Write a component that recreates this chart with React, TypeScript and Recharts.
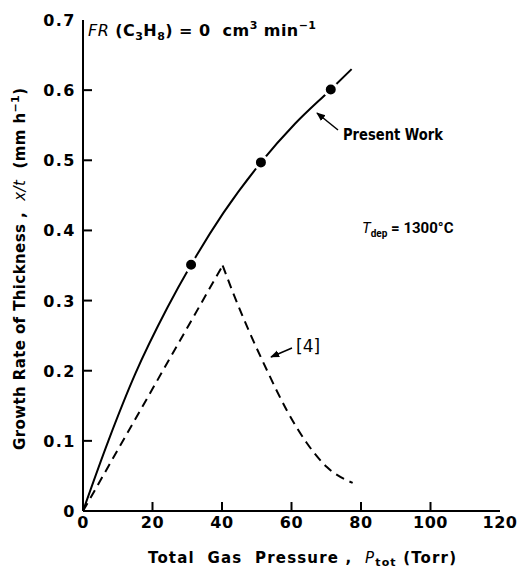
import { ComposedChart, Line, Scatter, XAxis, YAxis } from 'recharts'

// Present work (solid curve)
const presentX = [0, 7.3, 15, 24.3, 31.1, 40.4, 51.2, 61, 71.3, 77.3]
const presentY = [0, 0.1, 0.195, 0.29, 0.351, 0.425, 0.497, 0.552, 0.601, 0.63]
// measured points on the curve
const pointX = [31.1, 51.2, 71.3]
const pointY = [0.351, 0.497, 0.601]
// reference [4], dashed: rising branch and falling branch
const refRiseX = [0, 40.2]
const refRiseY = [0, 0.35]
const refFallX = [40.2, 43.2, 48, 52.9, 58.6, 64.4, 70.1, 77.6]
const refFallY = [0.35, 0.311, 0.254, 0.201, 0.144, 0.097, 0.063, 0.04]

const xTicks = [0, 20, 40, 60, 80, 100, 120]
const yTicks = [0, 0.1, 0.2, 0.3, 0.4, 0.5, 0.6, 0.7]

const zip = (xs: number[], ys: number[]) => xs.map((x, i) => ({ x, y: ys[i] }))

const W = 521
const H = 571
const LEFT = 83
const RIGHT = 500
const TOP = 20
const BOTTOM = 511
const FONT = '"DejaVu Sans", sans-serif'

function XTick(props: any) {
  const { x, payload } = props
  const v = payload.value
  return (
    <g>
      {v > 0 && v < 120 && (
        <line x1={x} x2={x} y1={BOTTOM} y2={BOTTOM - 9} stroke="#000" strokeWidth={2} />
      )}
      <text x={x} y={BOTTOM + 17} textAnchor="middle" fontFamily={FONT} fontWeight="bold" fontSize={16} fill="#000" letterSpacing={0.5}>
        {v}
      </text>
    </g>
  )
}

function YTick(props: any) {
  const { y, payload } = props
  const v = payload.value
  return (
    <g>
      {v > 0 && v < 0.7 && (
        <line x1={LEFT} x2={LEFT + 9} y1={y} y2={y} stroke="#000" strokeWidth={2} />
      )}
      <text x={LEFT - 7} y={y + 6} textAnchor="end" fontFamily={FONT} fontWeight="bold" fontSize={16} fill="#000" letterSpacing={1.5}>
        {v === 0 ? '0' : v.toFixed(1)}
      </text>
    </g>
  )
}

const Dot = (props: any) => (
  <circle cx={props.cx} cy={props.cy} r={6.5} fill="#000" stroke="#fff" strokeWidth={3} />
)

export default function App() {
  return (
    <div style={{ position: 'absolute', left: 0, top: 0, width: W, height: H, background: '#fff' }}>
      <ComposedChart width={W} height={H} margin={{ top: TOP, right: W - RIGHT, bottom: H - BOTTOM - 30, left: 28 }}>
        <XAxis
          type="number"
          dataKey="x"
          domain={[0, 120]}
          ticks={xTicks}
          tick={<XTick />}
          tickLine={false}
          tickSize={0}
          height={30}
          axisLine={{ stroke: '#000', strokeWidth: 2 }}
          allowDuplicatedCategory={false}
        />
        {/* mirrored axes close the frame on top and right */}
        <XAxis
          xAxisId="top"
          orientation="top"
          type="number"
          dataKey="x"
          domain={[0, 120]}
          ticks={xTicks}
          tick={false}
          tickLine={false}
          height={0}
          axisLine={{ stroke: '#000', strokeWidth: 2 }}
          allowDuplicatedCategory={false}
        />
        <YAxis
          type="number"
          dataKey="y"
          domain={[0, 0.7]}
          ticks={yTicks}
          tick={<YTick />}
          tickLine={false}
          tickSize={0}
          width={LEFT - 28}
          axisLine={{ stroke: '#000', strokeWidth: 2 }}
        />
        <YAxis
          yAxisId="right"
          orientation="right"
          type="number"
          dataKey="y"
          domain={[0, 0.7]}
          ticks={yTicks}
          tick={false}
          tickLine={false}
          width={0}
          axisLine={{ stroke: '#000', strokeWidth: 2 }}
        />
        <Line data={zip(presentX, presentY)} dataKey="y" type="monotone" stroke="#000" strokeWidth={2} dot={false} isAnimationActive={false} />
        <Line data={zip(refRiseX, refRiseY)} dataKey="y" type="linear" stroke="#000" strokeWidth={2} strokeDasharray="9 6" dot={false} isAnimationActive={false} />
        <Line data={zip(refFallX, refFallY)} dataKey="y" type="monotone" stroke="#000" strokeWidth={2} strokeDasharray="9 6" dot={false} isAnimationActive={false} />
        <Scatter data={zip(pointX, pointY)} dataKey="y" shape={<Dot />} isAnimationActive={false} />
      </ComposedChart>
      <svg width={W} height={H} style={{ position: 'absolute', left: 0, top: 0, zIndex: 6, pointerEvents: 'none' }} fontFamily={FONT} fontWeight="bold" fill="#000">
        <defs>
          <marker id="head" viewBox="0 0 10 10" refX="9" refY="5" markerWidth="6" markerHeight="6" orient="auto-start-reverse">
            <path d="M0,1 L10,5 L0,9 z" fill="#000" />
          </marker>
        </defs>
        <text x={88} y={36} fontSize={16} style={{ whiteSpace: 'pre' }} textLength={228} lengthAdjust="spacing">
          <tspan fontStyle="italic" fontWeight="normal">FR</tspan>
          <tspan> (C</tspan>
          <tspan fontSize={11} dy={4}>3</tspan>
          <tspan dy={-4}>H</tspan>
          <tspan fontSize={11} dy={4}>8</tspan>
          <tspan dy={-4}>) = 0  cm</tspan>
          <tspan fontSize={11} dy={-7}>3</tspan>
          <tspan dy={7}> min</tspan>
          <tspan fontSize={11} dy={-7}>−1</tspan>
        </text>
        <line x1={338} y1={130} x2={317} y2={113} stroke="#000" strokeWidth={1.5} markerEnd="url(#head)" />
        <text x={343} y={140} fontSize={15} textLength={100} lengthAdjust="spacingAndGlyphs">Present Work</text>
        <text x={362} y={233} fontSize={15} fontFamily="Roboto, sans-serif" style={{ whiteSpace: 'pre' }}>
          <tspan fontStyle="italic" fontWeight="normal">T</tspan>
          <tspan fontSize={10} dy={4}>dep</tspan>
          <tspan dy={-4}> = 1300°C</tspan>
        </text>
        <line x1={292} y1={348} x2={271} y2={357} stroke="#000" strokeWidth={1.5} markerEnd="url(#head)" />
        <text x={296} y={352} fontSize={17} fontWeight="normal">[4]</text>
        <text x={148} y={563} fontSize={15} style={{ whiteSpace: 'pre' }} textLength={308} lengthAdjust="spacing">
          <tspan>Total  Gas  Pressure ,  </tspan>
          <tspan fontStyle="italic" fontWeight="normal">P</tspan>
          <tspan fontSize={11} dy={3}>tot</tspan>
          <tspan dy={-3}> (Torr)</tspan>
        </text>
        <text transform="rotate(-90)" x={-450} y={25} fontSize={15} style={{ whiteSpace: 'pre' }} textLength={362} lengthAdjust="spacing">
          <tspan>Growth Rate of Thickness ,  </tspan>
          <tspan fontStyle="italic" fontWeight="normal">x/t</tspan>
          <tspan>  (mm h</tspan>
          <tspan fontSize={11} dy={-6}>−1</tspan>
          <tspan dy={6}>)</tspan>
        </text>
      </svg>
    </div>
  )
}
